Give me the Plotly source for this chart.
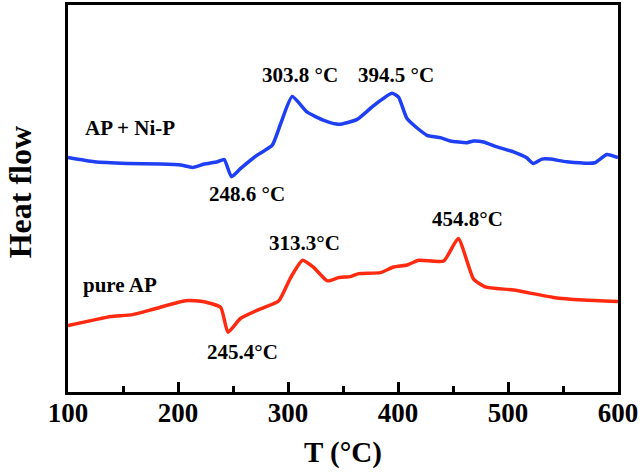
import plotly.graph_objects as go

# AP + Ni-P (blue) : temperature (°C) and heat flow (arbitrary units)
t_nip = [100, 124, 154, 184, 202.5, 213, 223.7, 235.8, 242, 248.6, 257, 272, 285.7, 293.3, 303.8,
         317.5, 332.6, 346, 362.9, 378, 394.5, 400.6, 408.3, 426.4, 438.5, 447.5, 462.7, 468.7,
         477.8, 490, 505, 517, 523, 530.8, 538.3, 553.4, 579, 589.8, 600]
hf_nip = [241.3, 237, 235.3, 234.7, 233.7, 231.3, 234.7, 237, 239.3, 222, 230.3, 243.7, 253.7, 275.3, 302.7,
          287, 278.7, 274.7, 279.7, 293.7, 306, 302, 280.3, 263.7, 261.3, 258, 256.3, 258,
          257, 252, 247, 241, 235.3, 239.7, 239.7, 237, 236, 244.3, 241.3]

# pure AP (red)
t_ap = [100, 124, 139, 158.7, 178.3, 207, 223.7, 238.8, 245.4, 257, 275, 291.7, 302.4, 313.3,
        323.5, 335.7, 346.2, 356.8, 364.3, 384, 396, 408.3, 418.8, 441.5, 454.8, 468.7, 479.3,
        505, 541.3, 568.5, 600]
hf_ap = [72, 77.7, 81, 83, 88.7, 97, 96, 90.3, 65.3, 79.3, 88.7, 97, 120.3, 137.7,
         130.3, 117, 120.3, 121.3, 124.3, 125.3, 131, 133, 137.7, 137, 159.7, 118.7, 111,
         107.7, 100.3, 97.7, 96.3]

# annotations: text, x (°C), y (heat flow units)
ann_text = ["AP + Ni-P", "303.8 °C", "394.5 °C", "248.6 °C", "pure AP", "313.3°C", "454.8°C", "245.4°C"]
ann_x = [156, 310.5, 398.5, 262.5, 147, 315, 463, 259]
ann_y = [271, 324, 324, 205, 113, 155.5, 179, 45]

x_ticks = [100, 200, 300, 400, 500, 600]

FONT = "Liberation Serif, Times New Roman, serif"

fig = go.Figure()
fig.add_trace(go.Scatter(x=t_nip, y=hf_nip, mode="lines",
                         line=dict(color="#1f3ff5", width=3.5, shape="spline", smoothing=0.5),
                         showlegend=False))
fig.add_trace(go.Scatter(x=t_ap, y=hf_ap, mode="lines",
                         line=dict(color="#ff2a10", width=3.5, shape="spline", smoothing=0.5),
                         showlegend=False))

for txt, ax, ay in zip(ann_text, ann_x, ann_y):
    fig.add_annotation(x=ax, y=ay, text=f"<b>{txt}</b>", showarrow=False,
                       font=dict(family=FONT, size=21, color="black"),
                       xanchor="center", yanchor="middle")

# y-axis title placed as rotated paper annotation
fig.add_annotation(x=-0.088, y=0.515, xref="paper", yref="paper", text="<b>Heat flow</b>",
                   textangle=-90, showarrow=False, xanchor="center", yanchor="middle",
                   font=dict(family=FONT, size=32, color="black"))

fig.update_layout(
    width=640, height=473,
    margin=dict(l=68, r=22, t=2, b=81),
    paper_bgcolor="white", plot_bgcolor="white",
    font=dict(family=FONT, color="black"),
)
fig.update_xaxes(
    range=[100, 600], tickvals=x_ticks, ticktext=[f"<b>{v}</b>" for v in x_ticks],
    tickfont=dict(family=FONT, size=27, color="black"),
    ticks="inside", ticklen=10, tickwidth=3, tickcolor="black",
    ticklabelstandoff=-5,
    minor=dict(tickvals=[150, 250, 350, 450, 550], ticks="inside", ticklen=6, tickwidth=3, tickcolor="black"),
    showline=True, linewidth=3, linecolor="black", mirror=True,
    showgrid=False, zeroline=False,
    title=dict(text="<b>T (°C)</b>", font=dict(family=FONT, size=29, color="black"), standoff=15),
)
fig.update_yaxes(
    range=[5, 395], showticklabels=False, ticks="",
    showline=True, linewidth=3, linecolor="black", mirror=True,
    showgrid=False, zeroline=False,
)

fig.write_html("out.html", config={"displayModeBar": False},
               post_script="document.body.style.margin='0';")
